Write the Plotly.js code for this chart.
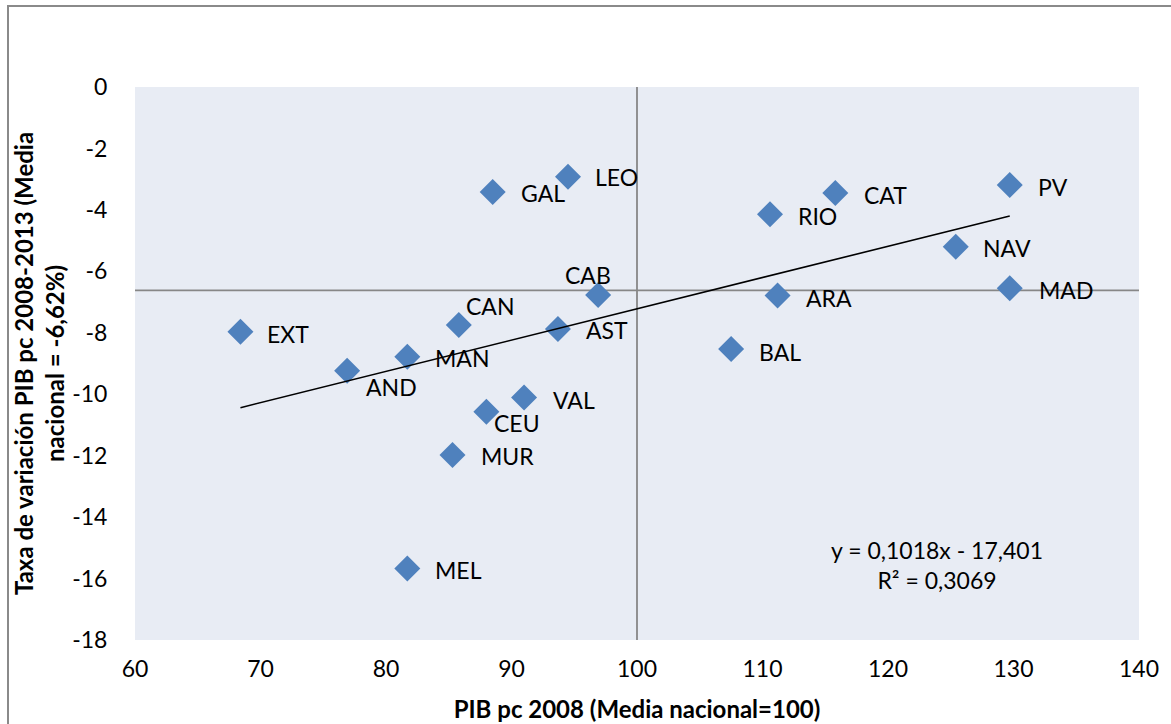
<!DOCTYPE html>
<html>
<head>
<meta charset="utf-8">
<script src="https://cdn.plot.ly/plotly-3.0.1.min.js"></script>
<style>
  html, body { margin: 0; padding: 0; overflow: hidden; background: #fff; }
  #chart { width: 1171px; height: 724px; position: relative; }
  #frame { position: absolute; left: 7px; top: 5px; width: 1300px; height: 900px;
           border-left: 2px solid #8a8a8a; border-top: 2px solid #8a8a8a; pointer-events: none; }
</style>
</head>
<body>
<div id="chart"></div>
<div id="frame"></div>
<script>
// ---- Data ----
var regions = ["EXT","AND","MAN","CAN","GAL","LEO","CAB","AST","VAL","CEU","MUR","MEL",
               "RIO","CAT","PV","NAV","MAD","ARA","BAL"];
var pibPc2008 = [68.4, 76.9, 81.7, 85.8, 88.5, 94.5, 96.9, 93.7, 91.0, 88.0, 85.3, 81.7,
                 110.6, 115.8, 129.7, 125.4, 129.7, 111.2, 107.5];
var tasaVariacion = [-7.97, -9.24, -8.78, -7.75, -3.42, -2.92, -6.77, -7.88, -10.11, -10.57, -11.98, -15.67,
                     -4.14, -3.45, -3.19, -5.20, -6.55, -6.79, -8.53];
var mediaPib = 100;
var mediaTasa = -6.62;
var trendSlope = 0.1018;
var trendIntercept = -17.401;
var equationText = "y = 0,1018x - 17,401<br>R² = 0,3069";
var xTicks = [60, 70, 80, 90, 100, 110, 120, 130, 140];
var yTicks = [0, -2, -4, -6, -8, -10, -12, -14, -16, -18];

// label offsets (px) from marker centre to label centre
var labelOffsets = {
  EXT:[48,2], AND:[44,16], MAN:[55,1], CAN:[32,-19], GAL:[50,1], LEO:[49,0], CAB:[-10,-20],
  AST:[49,1], VAL:[50,2], CEU:[31,11], MUR:[55,1], MEL:[51,2], RIO:[47,2], CAT:[50,2],
  PV:[43,2], NAV:[51,1], MAD:[56,2], ARA:[51,2], BAL:[49,3]
};

var FONT = "Lato, 'Open Sans', sans-serif";
var TXT = 23;
var TITLE = 24;

var xMin = Math.min.apply(null, pibPc2008);
var xMax = Math.max.apply(null, pibPc2008);

var traces = [
  {
    type: "scatter", mode: "markers",
    x: pibPc2008, y: tasaVariacion, text: regions,
    marker: { symbol: "diamond", size: 20, color: "#4F81BD" },
    hoverinfo: "text+x+y", showlegend: false
  },
  {
    type: "scatter", mode: "lines",
    x: [xMin, xMax],
    y: [trendSlope * xMin + trendIntercept, trendSlope * xMax + trendIntercept],
    line: { color: "#000000", width: 1.6 },
    hoverinfo: "skip", showlegend: false
  }
];

var annotations = regions.map(function (r, i) {
  var off = labelOffsets[r];
  return {
    x: pibPc2008[i], y: tasaVariacion[i], xref: "x", yref: "y",
    text: r, showarrow: false, xanchor: "center", yanchor: "middle",
    xshift: off[0], yshift: -off[1],
    font: { family: FONT, size: TXT, color: "#000" }
  };
});
annotations.push({
  x: 0.799, y: 0.136, xref: "paper", yref: "paper",
  text: equationText, showarrow: false, xanchor: "center", yanchor: "middle",
  align: "center", font: { family: FONT, size: TXT, color: "#000" }
});

var layout = {
  width: 1171, height: 724,
  margin: { l: 135, r: 32, t: 87, b: 84 },
  paper_bgcolor: "#ffffff",
  plot_bgcolor: "#E8ECF4",
  font: { family: FONT, size: TXT, color: "#000" },
  xaxis: {
    range: [60, 140], tickvals: xTicks, ticktext: xTicks.map(String),
    showgrid: false, zeroline: false, showline: false,
    ticks: "outside", ticklen: 8, tickcolor: "rgba(0,0,0,0)",
    tickfont: { family: FONT, size: TXT, color: "#000" },
    title: { text: "PIB pc 2008 (Media nacional=100)", standoff: 20,
             font: { family: FONT, size: TITLE, color: "#000", weight: "bold" } }
  },
  yaxis: {
    range: [-18, 0], tickvals: yTicks, ticktext: yTicks.map(String),
    showgrid: false, zeroline: false, showline: false,
    ticks: "outside", ticklen: 22, tickcolor: "rgba(0,0,0,0)",
    tickfont: { family: FONT, size: TXT, color: "#000" },
    title: { text: "Taxa de variación PIB pc 2008-2013 (Media<br>nacional = -6,62%)", standoff: 0,
             font: { family: FONT, size: TITLE, color: "#000", weight: "bold" } }
  },
  shapes: [
    { type: "line", xref: "x", yref: "paper", x0: mediaPib, x1: mediaPib, y0: 0, y1: 1,
      line: { color: "#878787", width: 1.8 }, layer: "below" },
    { type: "line", xref: "paper", yref: "y", x0: 0, x1: 1, y0: mediaTasa, y1: mediaTasa,
      line: { color: "#878787", width: 1.8 }, layer: "below" }
  ],
  annotations: annotations
};

Plotly.newPlot("chart", traces, layout, { displayModeBar: false, staticPlot: true });
</script>
</body>
</html>
